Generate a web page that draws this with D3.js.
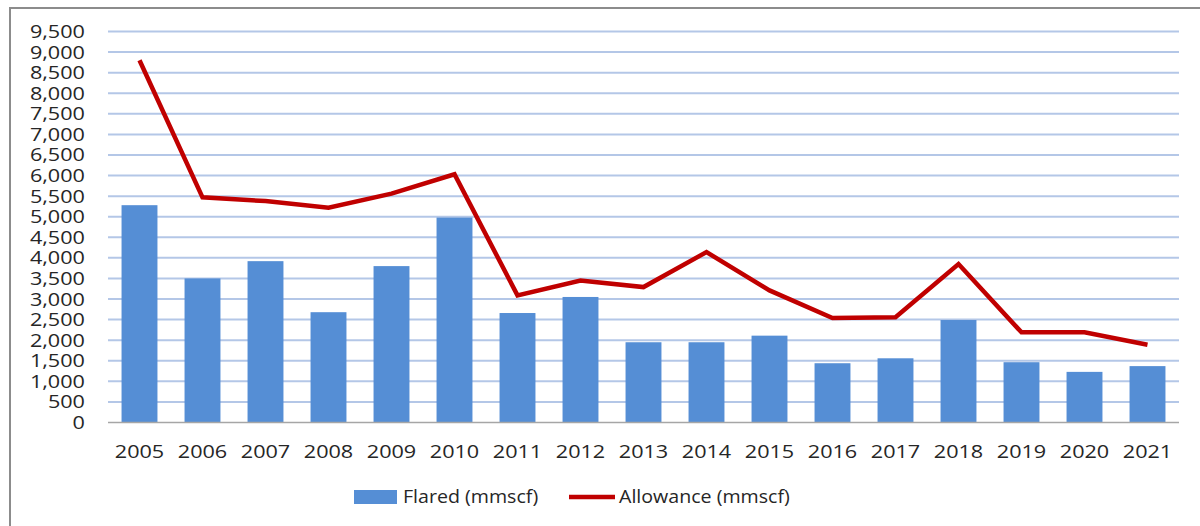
<!DOCTYPE html>
<html><head><meta charset="utf-8">
<script src="https://cdn.jsdelivr.net/npm/d3@7"></script>
<style>
html,body{margin:0;padding:0;background:#fff;}
svg text{font-family:"Open Sans","DejaVu Sans",sans-serif;fill:#262626;}
</style></head>
<body><svg id="c" width="1200" height="526"></svg>
<script>
const years = ["2005","2006","2007","2008","2009","2010","2011","2012","2013","2014","2015","2016","2017","2018","2019","2020","2021"];
const flared = [5280,3500,3920,2680,3800,4980,2660,3050,1950,1950,2110,1440,1560,2490,1465,1230,1370];
const allowance = [8800,5470,5380,5220,5560,6030,3090,3450,3290,4140,3210,2540,2560,3850,2190,2190,1890];
const yTicks = d3.range(0, 9501, 500);
const seriesNames = ["Flared (mmscf)", "Allowance (mmscf)"];

const svg = d3.select("#c");
const plot = {l:108, r:1179, t:31.5, b:422.5};
const sx = 1.17; // horizontal text stretch for axis labels
const lsx = 1.06; // legend text stretch

// frame
svg.append("path").attr("d","M10,526 L10,8 L1200,8").attr("fill","none").attr("stroke","#8c8c8c").attr("stroke-width",2);

const x = d3.scaleBand().domain(years).range([plot.l, plot.r]).paddingInner(0.43).paddingOuter(0.215);
const y = d3.scaleLinear().domain([0,9500]).range([plot.b, plot.t]);

// gridlines
svg.append("g").selectAll("line").data(yTicks.filter(d=>d>0)).join("line")
  .attr("x1",plot.l).attr("x2",plot.r).attr("y1",d=>y(d)).attr("y2",d=>y(d))
  .attr("stroke","#b4c7e7").attr("stroke-width",2);

// y labels
svg.append("g").selectAll("text").data(yTicks).join("text")
  .attr("transform",d=>`translate(85,${y(d)}) scale(${sx},1)`)
  .attr("text-anchor","end").attr("dy","0.35em").attr("font-size","18.5px")
  .text(d=>d3.format(",")(d));

// bars
svg.append("g").selectAll("rect").data(years).join("rect")
  .attr("x",d=>x(d)).attr("width",x.bandwidth())
  .attr("y",(d,i)=>y(flared[i])).attr("height",(d,i)=>y(0)-y(flared[i]))
  .attr("fill","#558ed5");

// x axis line
svg.append("line").attr("x1",plot.l).attr("x2",plot.r).attr("y1",y(0)).attr("y2",y(0))
  .attr("stroke","#a6a6a6").attr("stroke-width",1.5);

// x labels
svg.append("g").selectAll("text").data(years).join("text")
  .attr("transform",d=>`translate(${x(d)+x.bandwidth()/2},${452}) scale(${sx},1)`)
  .attr("text-anchor","middle").attr("dy","0.35em").attr("font-size","18.5px")
  .text(d=>d);

// line
const line = d3.line().x((d,i)=>x(years[i])+x.bandwidth()/2).y(d=>y(d));
svg.append("path").datum(allowance).attr("d",line)
  .attr("fill","none").attr("stroke","#c00000").attr("stroke-width",4.5).attr("stroke-linejoin","miter");

// legend
const lg = svg.append("g");
lg.append("rect").attr("x",354).attr("y",490).attr("width",43).attr("height",14).attr("fill","#558ed5");
lg.append("text").attr("transform",`translate(403,497) scale(${lsx},1)`).attr("dy","0.35em").attr("font-size","18.5px").text(seriesNames[0]);
lg.append("line").attr("x1",569).attr("x2",615).attr("y1",497).attr("y2",497).attr("stroke","#c00000").attr("stroke-width",4.5);
lg.append("text").attr("transform",`translate(619,497) scale(${lsx},1)`).attr("dy","0.35em").attr("font-size","18.5px").text(seriesNames[1]);
</script></body></html>
